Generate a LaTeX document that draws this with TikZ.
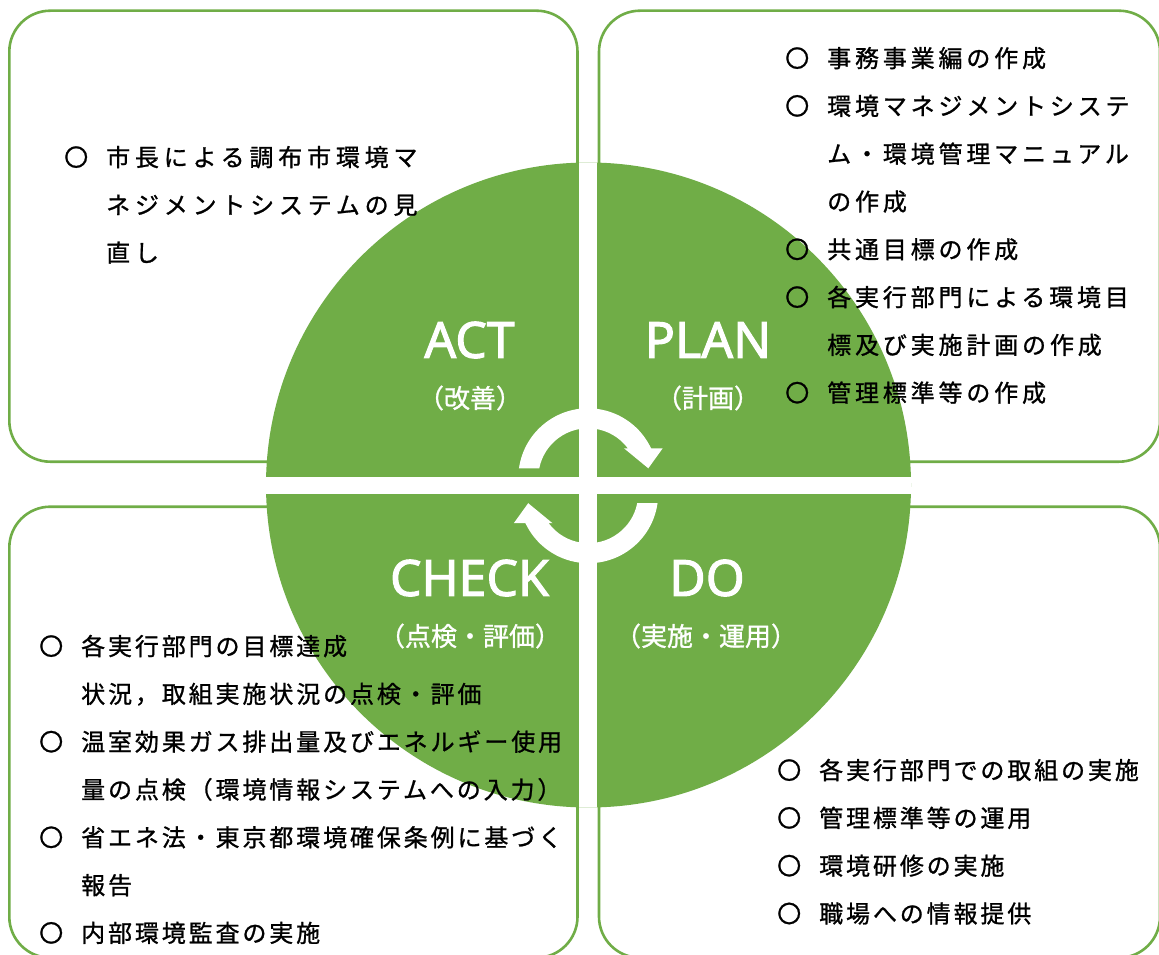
\documentclass[tikz,border=0pt]{standalone}
\usepackage{fontspec}
\usetikzlibrary{calc}
\newfontfamily\jpfont{Noto Sans CJK JP}[LetterSpace=12, FakeBold=1]
\newfontfamily\jpplan{Noto Sans CJK JP}[LetterSpace=16, FakeBold=1]
\newfontfamily\jpwide{Noto Sans CJK JP}[LetterSpace=20, FakeBold=1]
\newfontfamily\jpsub{Noto Sans CJK JP}[FakeBold=1]
\newfontfamily\latfont{Noto Sans}[FakeBold=2]
\definecolor{pdcagreen}{HTML}{70AD47}
\newcommand{\boxsize}{\fontsize{24}{47.8}\selectfont}
\newcommand{\bul}{\makebox[42pt][l]{〇}}
\newcommand{\ind}{\hspace*{42pt}}

\begin{document}
\begin{tikzpicture}[x=1pt, y=-1pt,
	box/.style={draw=pdcagreen, line width=2.6pt, fill=white, rounded corners=41pt},
	phase/.style={text=white, inner sep=0pt, font=\latfont\fontsize{50}{60}\selectfont},
	sub/.style={text=white, inner sep=0pt, font=\jpsub\fontsize{26}{32}\selectfont},
	items/.style={anchor=north west, inner sep=0pt, align=left, font=\jpfont\boxsize}]
	\useasboundingbox (0,0) rectangle (1159,955);
	\clip (0,0) rectangle (1159,955);
	% the four boxes
	\draw[box] (9.3,10.7) rectangle (577.5,461.7);
	\draw[box] (599,10.7) rectangle (1160,461.7);
	\draw[box] (9.3,506.7) rectangle (577.5,957.7);
	\draw[box] (599,506.7) rectangle (1160,957.7);
	% disc and cross
	\coordinate (c) at (588.5,485);
	\fill[pdcagreen] (c) circle[radius=322.5];
	\begin{scope}
		\clip (c) circle[radius=322.5];
		\draw[white, line width=17.4pt] (588,150) -- (588,820);
		\draw[white, line width=17.6pt] (250,485.5) -- (930,485.5);
	\end{scope}
	% turning arrows
	\foreach \cx/\cy/\r in {588/478/0, 588.5/493.5/180} {
		\begin{scope}[shift={(\cx,\cy)}, rotate=\r]
			\fill[white] (-172:69.7) arc[start angle=-172, end angle=-25.2, radius=69.7]
				-- (74.7,-29.7) -- (60.3,-9.7) -- (36,-29.7)
				-- (-36.7:49.7) arc[start angle=-36.7, end angle=-168.7, radius=49.7] -- cycle;
		\end{scope}
	}
	% phase names
	\node[phase] (act) at (469.5,340) {ACT};
	\node[sub] (actsub) at (470,398) {（改善）};
	\node[phase] (plan) at (708,340) {PLAN};
	\node[sub] (plansub) at (708,398) {（計画）};
	\node[phase] (check) at (469.5,578) {CHECK};
	\node[sub] (checksub) at (470,636) {（点検・評価）};
	\node[phase] (do) at (707,578) {DO};
	\node[sub] (dosub) at (706,636) {（実施・運用）};
	% box texts
	\node[items, font=\jpwide\boxsize] (acttext) at (64,136) {\rule{0pt}{30pt}\bul 市長による調布市環境マ\\
		\ind ネジメントシステムの見\\
		\ind 直し};
	\node[items, font=\jpplan\boxsize] (plantext) at (785,37) {\rule{0pt}{30pt}\bul 事務事業編の作成\\
		\bul 環境マネジメントシステ\\
		\ind ム・環境管理マニュアル\\
		\ind の作成\\
		\bul 共通目標の作成\\
		\bul 各実行部門による環境目\\
		\ind 標及び実施計画の作成\\
		\bul 管理標準等の作成};
	\node[items] (checktext) at (39,625) {\rule{0pt}{30pt}\bul 各実行部門の目標達成\\
		\ind 状況，取組実施状況の点検・評価\\
		\bul 温室効果ガス排出量及びエネルギー使用\\
		\ind 量の点検（環境情報システムへの入力）\\
		\bul 省エネ法・東京都環境確保条例に基づく\\
		\ind 報告\\
		\bul 内部環境監査の実施};
	\node[items] (dotext) at (777,749) {\rule{0pt}{30pt}\bul 各実行部門での取組の実施\\
		\bul 管理標準等の運用\\
		\bul 環境研修の実施\\
		\bul 職場への情報提供};
\end{tikzpicture}
\end{document}
